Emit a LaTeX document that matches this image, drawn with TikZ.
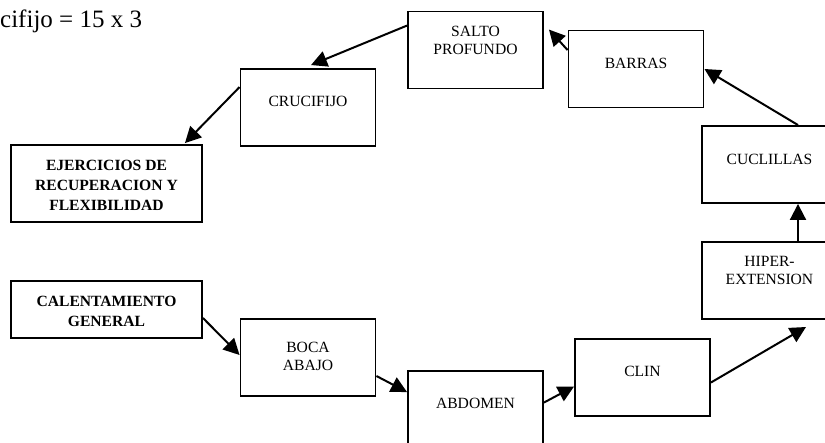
\documentclass[tikz,border=0pt]{standalone}
\usepackage{fontspec}
\setmainfont{Liberation Serif}
\usetikzlibrary{positioning,arrows.meta}

\begin{document}
\begin{tikzpicture}[x=1pt, y=-1pt,
    box/.style={draw, line width=1.9pt, minimum width=135pt, minimum height=77pt, inner sep=0pt},
    wbox/.style={box, minimum width=191pt},
    txt/.style={align=center, inner sep=0pt, font=\fontsize{15.6}{18}\selectfont},
    btxt/.style={txt, font=\fontsize{15.6}{20}\selectfont\bfseries},
    flow/.style={-{Triangle[length=16pt,width=16pt]}, line width=2pt}]

    \useasboundingbox (0,0) rectangle (825,442);
    \clip (0,0) rectangle (825,442);

    \node[anchor=base west, inner sep=0pt, font=\fontsize{25}{30}\selectfont] (serie) at (0,27) {cifijo = 15 x 3};

    % Boxes
    \node[wbox, minimum height=57pt] (calen) at (106.5,309.5) {};
    \node[box] (boca) at (308,357.5) {};
    \node[box] (abdo) at (475.5,409.5) {};
    \node[box] (clin) at (642.5,377.5) {};
    \node[box] (hiper) at (769.5,280.5) {};
    \node[box] (cucl) at (769.5,164.5) {};
    \node[box] (barras) at (636,69) {};
    \node[box] (salto) at (475.5,50) {};
    \node[box] (cruc) at (308,107.5) {};
    \node[wbox] (ejer) at (106.5,183.5) {};

    % Texts
    \node[btxt, below=15.5pt of calen.north] (calenT) {CALENTAMIENTO\\GENERAL};
    \node[txt, below=24pt of boca.north] (bocaT) {BOCA\\ABAJO};
    \node[txt, below=27.5pt of abdo.north] (abdoT) {ABDOMEN};
    \node[txt, below=27.5pt of clin.north] (clinT) {CLIN};
    \node[txt, below=15pt of hiper.north] (hiperT) {HIPER-\\EXTENSION};
    \node[txt, below=29pt of cucl.north] (cuclT) {CUCLILLAS};
    \node[txt, below=28pt of barras.north] (barrasT) {BARRAS};
    \node[txt, below=15pt of salto.north] (saltoT) {SALTO\\PROFUNDO};
    \node[txt, below=27.5pt of cruc.north] (crucT) {CRUCIFIJO};
    \node[btxt, below=15.5pt of ejer.north] (ejerT) {EJERCICIOS DE\\RECUPERACION Y\\FLEXIBILIDAD};

    % Arrows
    \coordinate (hiperIn) at (806,327);
    \draw[flow] ([yshift=-8.5pt]calen.east) -- ([yshift=2.5pt]boca.west);
    \draw[flow] ([yshift=-18.5pt]boca.east) -- ([yshift=-22pt]abdo.north west);
    \draw[flow] ([yshift=-32.5pt]abdo.north east) -- ([yshift=-9pt]clin.west);
    \draw[flow] ([yshift=-5pt]clin.east) -- (hiperIn);
    \draw[flow] ([xshift=28.5pt]hiper.north) -- ([xshift=28.5pt]cucl.south);
    \draw[flow] ([xshift=28.5pt]cucl.north) -- (barras.east);
    \draw[flow] ([yshift=19pt]barras.west) -- ([xshift=5pt,yshift=-19pt]salto.north east);
    \draw[flow] ([yshift=-15pt]salto.north west) -- ([xshift=3pt,yshift=3pt]cruc.north);
    \draw[flow] ([yshift=-19pt]cruc.north west) -- ([xshift=-18pt,yshift=1pt]ejer.north east);
\end{tikzpicture}
\end{document}
